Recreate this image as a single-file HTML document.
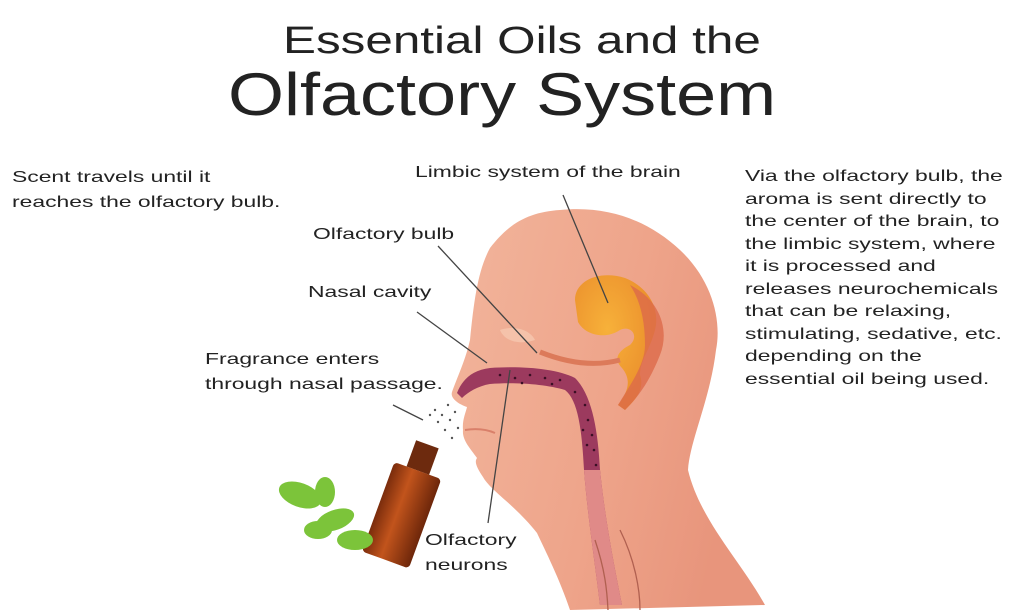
<!DOCTYPE html>
<html><head><meta charset="utf-8"><style>
body{margin:0;width:1026px;height:612px;background:#fff;overflow:hidden;font-family:"Liberation Sans",sans-serif;color:#222}
.t{position:absolute;white-space:nowrap;transform-origin:0 0;transform:scaleX(1.43)}
.h{position:absolute;white-space:nowrap;transform-origin:0 0}
</style></head><body>
<svg width="1026" height="612" style="position:absolute;left:0;top:0">
<defs>
<linearGradient id="sk" x1="0" y1="0" x2="1" y2="0.3"><stop offset="0" stop-color="#f2b59c"/><stop offset="0.6" stop-color="#eea48a"/><stop offset="1" stop-color="#e8957c"/></linearGradient>
<radialGradient id="br" cx="0.4" cy="0.4" r="0.7"><stop offset="0" stop-color="#f7b13a"/><stop offset="1" stop-color="#e98a2a"/></radialGradient>
<linearGradient id="bt" x1="0" y1="0" x2="1" y2="0"><stop offset="0" stop-color="#7a2c0c"/><stop offset="0.4" stop-color="#c2541c"/><stop offset="1" stop-color="#6d260a"/></linearGradient>
</defs>
<path d="M560,210 C610,205 650,222 680,250 C712,280 722,320 716,350 C710,400 690,440 688,470 C700,520 740,560 765,605 L570,610 C560,580 545,550 537,533 C515,505 490,490 483,477 C477,468 474,462 477,458 C470,448 462,440 463,430 C462,420 466,412 467,407 C458,404 450,398 452,392 C456,380 465,362 470,340 C474,300 478,270 490,248 C510,222 530,212 560,210 Z" fill="url(#sk)"/>
<path d="M500,330 C515,325 530,330 535,340 C520,345 505,342 500,330Z" fill="#f5c2aa"/>
<path d="M465,430 C478,428 488,430 495,433" stroke="#d9806a" stroke-width="2" fill="none"/>
<path d="M575,300 C575,280 600,270 625,278 C650,288 660,310 655,330 C650,350 640,360 640,375 C645,390 635,400 625,410 L618,405 C628,392 632,380 622,368 C612,358 620,350 630,345 C640,335 630,325 620,330 C605,340 585,335 578,322 Z" fill="url(#br)"/>
<path d="M630,285 C660,300 670,330 660,355 C650,380 640,395 625,410 L618,405 C630,385 645,365 645,345 C645,320 640,300 630,285Z" fill="#dc6a4a" opacity="0.8"/>
<path d="M540,352 C560,360 590,368 620,360" stroke="#dc7a5a" stroke-width="5" fill="none"/>
<path d="M457,393 C462,380 472,370 490,368 C520,366 555,368 575,378 C592,395 598,430 600,470 C605,520 615,570 622,605 L600,605 C596,570 588,520 584,470 C582,430 578,400 565,390 C545,384 515,382 490,384 C478,386 468,392 462,398 Z" fill="#9c3a5e"/>
<path d="M584,470 C588,520 596,570 600,605 L622,605 C615,570 605,520 600,470 Z" fill="#e08a88"/>
<g fill="#3a0f24"><circle cx="500" cy="375" r="1.3"/><circle cx="515" cy="378" r="1.3"/><circle cx="530" cy="375" r="1.3"/><circle cx="545" cy="378" r="1.3"/><circle cx="560" cy="380" r="1.3"/><circle cx="575" cy="392" r="1.3"/><circle cx="585" cy="405" r="1.3"/><circle cx="588" cy="420" r="1.3"/><circle cx="592" cy="435" r="1.3"/><circle cx="594" cy="450" r="1.3"/><circle cx="596" cy="465" r="1.3"/><circle cx="583" cy="430" r="1.3"/><circle cx="587" cy="445" r="1.3"/><circle cx="522" cy="383" r="1.3"/><circle cx="552" cy="384" r="1.3"/></g>
<g stroke="#444" stroke-width="1.3" fill="none">
<line x1="438" y1="246" x2="537" y2="353"/><line x1="417" y1="312" x2="487" y2="363"/>
<line x1="563" y1="195" x2="608" y2="303"/><line x1="510" y1="370" x2="488" y2="523"/>
<line x1="393" y1="405" x2="423" y2="420"/>
<path d="M595,540 C605,570 607,590 608,610 M620,530 C635,560 640,590 640,610" stroke="#b06050"/>
</g>
<g fill="#555"><circle cx="435" cy="410" r="1.2"/><circle cx="442" cy="415" r="1.2"/><circle cx="448" cy="405" r="1.2"/><circle cx="438" cy="422" r="1.2"/><circle cx="450" cy="420" r="1.2"/><circle cx="445" cy="430" r="1.2"/><circle cx="455" cy="412" r="1.2"/><circle cx="452" cy="438" r="1.2"/><circle cx="458" cy="428" r="1.2"/><circle cx="430" cy="415" r="1.2"/></g>
<g transform="rotate(20 405 500)">
<rect x="395" y="440" width="24" height="28" fill="#6d2a0e"/>
<rect x="382" y="468" width="50" height="95" rx="4" fill="url(#bt)"/>
</g>
<g fill="#7cc43a"><ellipse cx="300" cy="495" rx="22" ry="12" transform="rotate(20 300 495)"/><ellipse cx="325" cy="492" rx="10" ry="15"/><ellipse cx="335" cy="520" rx="20" ry="10" transform="rotate(-20 335 520)"/><ellipse cx="355" cy="540" rx="18" ry="10"/><ellipse cx="318" cy="530" rx="14" ry="9"/></g>
</svg>
<div class="h" style="left:283px;top:20px;font-size:38px;transform:scaleX(1.3)">Essential Oils and the</div>
<div class="h" style="left:228px;top:60px;font-size:60px;transform:scaleX(1.2)">Olfactory System</div>
<div class="t" style="left:12px;top:165px;font-size:16px;line-height:25px">Scent travels until it<br>reaches the olfactory bulb.</div>
<div class="t" style="left:415px;top:164px;font-size:16px">Limbic system of the brain</div>
<div class="t" style="left:313px;top:226px;font-size:16px">Olfactory bulb</div>
<div class="t" style="left:308px;top:284px;font-size:16px">Nasal cavity</div>
<div class="t" style="left:205px;top:347px;font-size:16px;line-height:25px">Fragrance enters<br>through nasal passage.</div>
<div class="t" style="left:425px;top:528px;font-size:16px;line-height:25px">Olfactory<br>neurons</div>
<div class="t" style="left:745px;top:166px;font-size:16px;line-height:22.5px">Via the olfactory bulb, the<br>aroma is sent directly to<br>the center of the brain, to<br>the limbic system, where<br>it is processed and<br>releases neurochemicals<br>that can be relaxing,<br>stimulating, sedative, etc.<br>depending on the<br>essential oil being used.</div>
</body></html>
